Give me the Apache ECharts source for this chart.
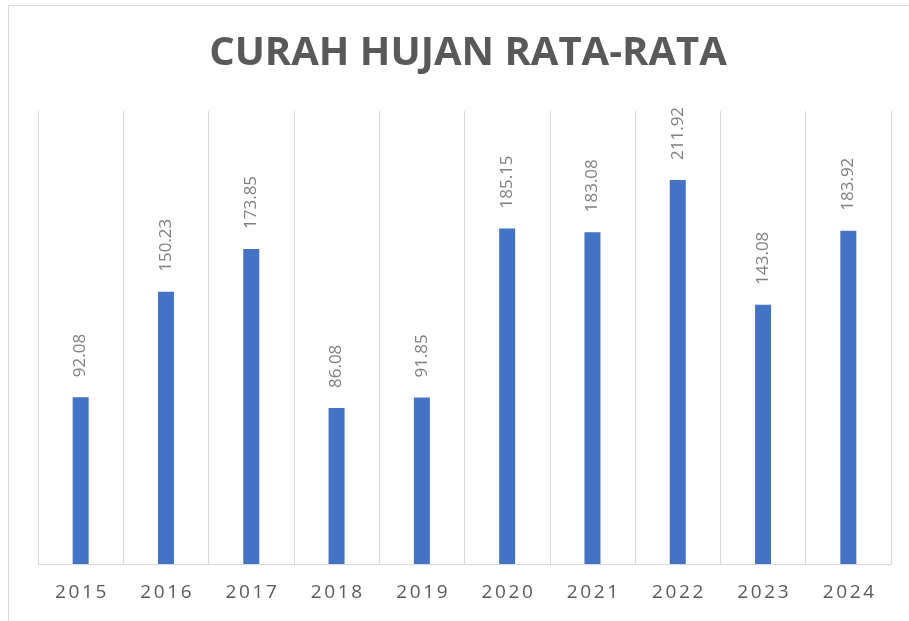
<!DOCTYPE html>
<html>
<head>
<meta charset="utf-8">
<script src="https://cdn.jsdelivr.net/npm/echarts@6/dist/echarts.min.js"></script>
<style>
html,body{margin:0;padding:0;background:#fff;}
#chart{width:909px;height:621px;}
</style>
</head>
<body>
<div id="chart"></div>
<script>
const titleText = 'CURAH HUJAN RATA-RATA';
const categories = ['2015','2016','2017','2018','2019','2020','2021','2022','2023','2024'];
const rainfall = [92.08, 150.23, 173.85, 86.08, 91.85, 185.15, 183.08, 211.92, 143.08, 183.92];

const chart = echarts.init(document.getElementById('chart'), null, {renderer: 'canvas'});
chart.setOption({
  backgroundColor: '#ffffff',
  animation: false,
  graphic: [{
    type: 'rect',
    shape: {x: 8.5, y: 5.5, width: 1000, height: 1000},
    style: {fill: 'none', stroke: '#d9d9d9', lineWidth: 1},
    silent: true,
    z: -1
  }],
  title: {
    text: titleText,
    left: 463,
    textAlign: 'center',
    top: 29,
    textStyle: {
      fontFamily: 'Open Sans',
      fontWeight: 'bold',
      fontSize: 40,
      color: '#595959'
    }
  },
  grid: {left: 38, right: 18, top: 111, bottom: 57, containLabel: false},
  xAxis: {
    type: 'category',
    data: categories,
    boundaryGap: true,
    axisLine: {show: true, lineStyle: {color: '#d9d9d9', width: 1}},
    axisTick: {show: false},
    splitLine: {show: true, interval: 0, lineStyle: {color: '#d9d9d9', width: 1}},
    axisLabel: {
      interval: 0,
      margin: 19,
      formatter: function (v) {
        return v.split('').map(function (c) { return '{d|' + c + '}'; }).join('');
      },
      rich: {
        d: {
          fontFamily: 'Open Sans',
          fontSize: 19,
          color: '#595959',
          width: 13.5,
          align: 'center'
        }
      }
    }
  },
  yAxis: {
    type: 'value',
    min: 0,
    max: 250,
    interval: 50,
    show: false,
    splitLine: {show: false}
  },
  series: [{
    type: 'bar',
    data: rainfall,
    barWidth: 16,
    itemStyle: {color: '#4472C4'},
    label: {
      show: true,
      position: 'top',
      rotate: 90,
      align: 'left',
      verticalAlign: 'middle',
      distance: 20,
      fontFamily: 'Open Sans',
      fontSize: 17,
      color: '#7f7f7f',
      formatter: function (p) { return p.value.toFixed(2); }
    }
  }]
});
</script>
</body>
</html>
